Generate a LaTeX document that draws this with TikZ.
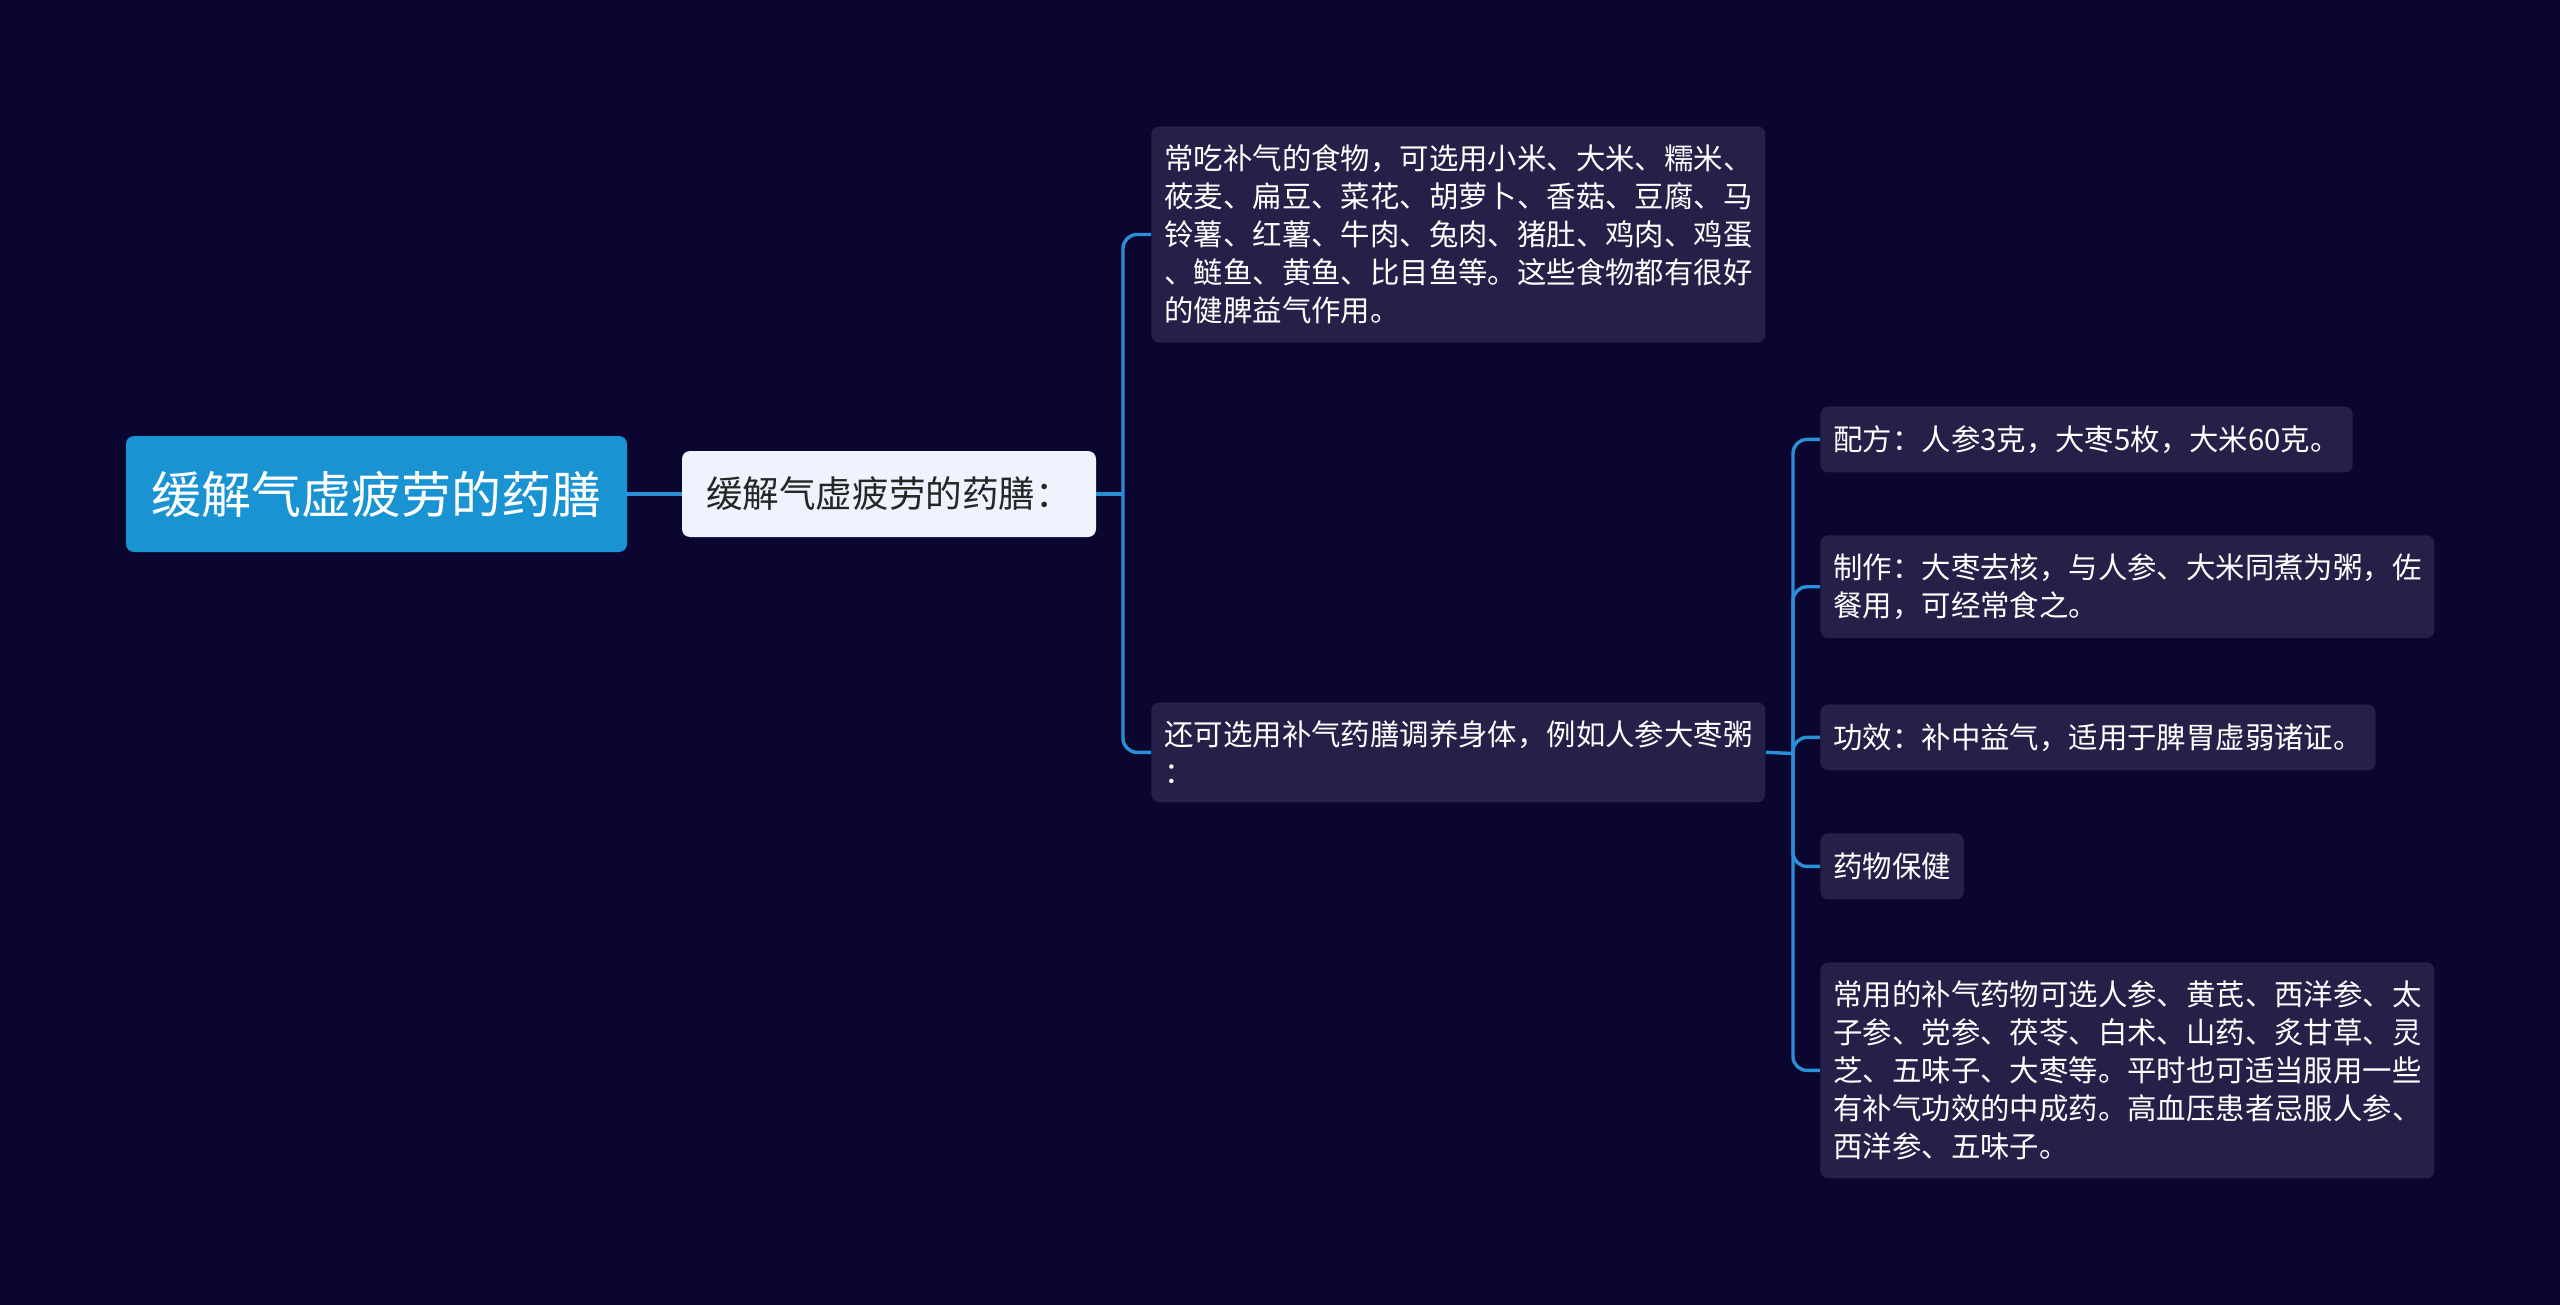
\documentclass[tikz,border=0pt]{standalone}
\usepackage{fontspec}
\setmainfont{Noto Sans CJK SC}
\definecolor{bgnavy}{HTML}{0A0630}
\definecolor{rootblue}{HTML}{1A93D3}
\definecolor{subpale}{HTML}{EEF3FD}
\definecolor{leafdark}{HTML}{252048}
\definecolor{linkblue}{HTML}{2B8FD6}
\begin{document}
\begin{tikzpicture}[x=0.5pt, y=-0.5pt,
  every node/.style={rounded corners=4pt, inner xsep=6.5pt, inner ysep=9.2pt, align=left},
  rootbox/.style={fill=rootblue, text=white, minimum width=250.5pt, minimum height=58pt, font={\fontsize{25pt}{30pt}\selectfont}},
  subbox/.style={fill=subpale, text=black!85, minimum width=207pt, minimum height=43pt, font={\fontsize{18.3pt}{22pt}\selectfont}},
  leafbox/.style={fill=leafdark, text=white, anchor=north west, minimum height=33pt, font={\fontsize{14.7pt}{19pt}\selectfont}},
  link/.style={draw=linkblue, line width=1.7pt, rounded corners=7pt}]

% Background
\fill[bgnavy] (0,0) rectangle (2560,1305);

% Nodes
\node[rootbox] (root) at (376.5,494) {缓解气虚疲劳的药膳};
\node[subbox] (sub) at (889,494) {缓解气虚疲劳的药膳：};
\node[leafbox] (food) at (1151,126) {常吃补气的食物，可选用小米、大米、糯米、\\莜麦、扁豆、菜花、胡萝卜、香菇、豆腐、马\\铃薯、红薯、牛肉、兔肉、猪肚、鸡肉、鸡蛋\\、鲢鱼、黄鱼、比目鱼等。这些食物都有很好\\的健脾益气作用。};
\node[leafbox] (congee) at (1151,702) {还可选用补气药膳调养身体，例如人参大枣粥\\：};
\node[leafbox] (recipe) at (1820,406) {配方：人参3克，大枣5枚，大米60克。};
\node[leafbox] (making) at (1820,535) {制作：大枣去核，与人参、大米同煮为粥，佐\\餐用，可经常食之。};
\node[leafbox] (effect) at (1820,704) {功效：补中益气，适用于脾胃虚弱诸证。};
\node[leafbox] (care) at (1820,833) {药物保健};
\node[leafbox] (herbs) at (1820,962) {常用的补气药物可选人参、黄芪、西洋参、太\\子参、党参、茯苓、白术、山药、炙甘草、灵\\芝、五味子、大枣等。平时也可适当服用一些\\有补气功效的中成药。高血压患者忌服人参、\\西洋参、五味子。};

% Connectors
\coordinate (j1) at (1123,494);
\coordinate (j2) at (1793,753.5);
\draw[link] (root) -- (sub);
\draw[link] (sub.east) -- (j1);
\draw[link] (j1) |- (food.west);
\draw[link] (j1) |- (congee.west);
\draw[link] (congee.east) -- (j2);
\foreach \leaf in {recipe, making, effect, care, herbs}
  \draw[link] (j2) |- (\leaf.west);

\end{tikzpicture}
\end{document}
